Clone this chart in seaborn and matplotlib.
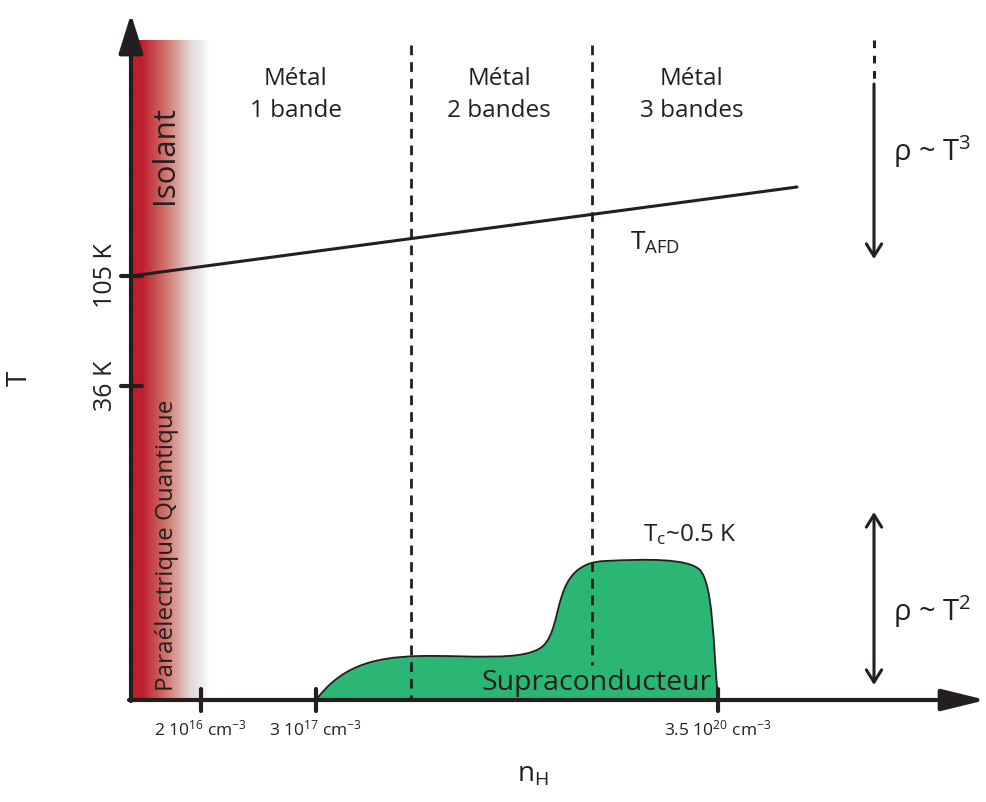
import numpy as np
import matplotlib.pyplot as plt
import seaborn as sns
from matplotlib.path import Path
from matplotlib.patches import PathPatch
from matplotlib.colors import LinearSegmentedColormap

# schematic coordinates: x = position along n_H, y = position down the T axis (0 at top)
region_labels = ["Métal\n1 bande", "Métal\n2 bandes", "Métal\n3 bandes"]
region_x = [296, 499, 692]
boundary_x = [411, 592]
boundary_bottom = [700, 665]

tafd_x = [131, 797]
tafd_y = [276, 187]

T_ticks = [276, 386]
T_labels = ["105 K", "36 K"]

n_ticks = [201, 316, 718]
n_labels = [r"2 $\mathregular{10^{16}}$ cm$\mathregular{^{-3}}$",
            r"3 $\mathregular{10^{17}}$ cm$\mathregular{^{-3}}$",
            r"3.5 $\mathregular{10^{20}}$ cm$\mathregular{^{-3}}$"]

# superconducting dome outline (cubic Bezier control points)
dome_pts = [(316, 700),
            (340, 668), (370, 657), (420, 656),
            (470, 655), (525, 662), (543, 646),
            (565, 625), (550, 563), (605, 561),
            (645, 559), (688, 558), (700, 570),
            (713, 585), (713, 640), (718, 700),
            (316, 700)]

ink = "#231f20"

sns.set_style("white")
plt.rcParams["font.family"] = ["Open Sans", "DejaVu Sans"]

fig = plt.figure(figsize=(9.87, 8.02), dpi=100)
ax = fig.add_axes([0, 0, 1, 1])

# insulating band gradient
cmap = LinearSegmentedColormap.from_list(
    "iso", [(0, "#be1e2d"), (0.14, "#be1e2d"), (0.45, "#d0786f"),
            (0.75, "#e4d6d4"), (0.9, "#eceef0"), (1.0, "#ffffff")])
grad = np.linspace(0, 1, 256).reshape(1, -1)
ax.imshow(grad, cmap=cmap, extent=(131, 210, 700, 40), aspect="auto", zorder=0)

# dome
codes = [Path.MOVETO] + [Path.CURVE4] * 15 + [Path.CLOSEPOLY]
ax.add_patch(PathPatch(Path(dome_pts, codes), facecolor="#2bb673",
                       edgecolor=ink, lw=1.3, zorder=2))

# region boundaries
for bx, bb in zip(boundary_x, boundary_bottom):
    ax.plot([bx, bx], [45, bb], color=ink, lw=2, dashes=(3.5, 2.5), zorder=3)

# T_AFD line
sns.lineplot(x=tafd_x, y=tafd_y, ax=ax, color=ink, lw=2.2, zorder=4)

# axes with arrows
ax.annotate("", xy=(131, 14), xytext=(131, 701), annotation_clip=False,
            arrowprops=dict(arrowstyle="-|>,head_length=0.8,head_width=0.25",
                            mutation_scale=30, lw=3, color=ink, shrinkA=0, shrinkB=0),
            zorder=5)
ax.annotate("", xy=(986, 700), xytext=(129, 700), annotation_clip=False,
            arrowprops=dict(arrowstyle="-|>,head_length=0.9,head_width=0.22",
                            mutation_scale=30, lw=3, color=ink, shrinkA=0, shrinkB=0),
            zorder=5)

# ticks
for ty, tl in zip(T_ticks, T_labels):
    ax.plot([121, 142], [ty, ty], color=ink, lw=3, zorder=5)
    ax.text(106, ty, tl, rotation=90, ha="center", va="center", fontsize=18, color=ink)
for tx, tl in zip(n_ticks, n_labels):
    ax.plot([tx, tx], [689, 711], color=ink, lw=3, zorder=5)
    ax.text(tx, 729, tl, ha="center", va="center", fontsize=12.5, color=ink)

ax.text(20, 378, "T", rotation=90, ha="center", va="center", fontsize=20, color=ink)
ax.text(533, 775, r"$\mathregular{n_H}$", ha="center", va="center", fontsize=20, color=ink)

# labels
for rx, rl in zip(region_x, region_labels):
    ax.text(rx, 95, rl, ha="center", va="center", fontsize=17.5, color=ink, linespacing=1.45)

ax.text(630, 243, r"$\mathregular{T_{AFD}}$", ha="left", va="center", fontsize=19, color=ink)
ax.text(165, 155, "Isolant", rotation=90, ha="center", va="center", fontsize=22.5, color=ink)
ax.text(167, 545, "Paraélectrique Quantique", rotation=90, ha="center", va="center",
        fontsize=17.5, color=ink)
ax.text(597, 683, "Supraconducteur", ha="center", va="center", fontsize=20.5, color=ink, zorder=6)
ax.text(643, 535, r"$\mathregular{T_c}$~0.5 K", ha="left", va="center", fontsize=17.5, color=ink)

# resistivity arrows
ax.plot([874, 874], [40, 80], color=ink, lw=2.2, dashes=(2.5, 2.5))
ax.annotate("", xy=(874, 259), xytext=(874, 84),
            arrowprops=dict(arrowstyle="->,head_length=0.4,head_width=0.25",
                            mutation_scale=22, lw=2.2, color=ink, shrinkA=0, shrinkB=0))
ax.annotate("", xy=(874, 685), xytext=(874, 512),
            arrowprops=dict(arrowstyle="<->,head_length=0.4,head_width=0.25",
                            mutation_scale=22, lw=2.2, color=ink, shrinkA=0, shrinkB=0))
ax.text(893, 152, r"ρ ~ $\mathregular{T^3}$", ha="left", va="center", fontsize=21, color=ink)
ax.text(893, 612, r"ρ ~ $\mathregular{T^2}$", ha="left", va="center", fontsize=21, color=ink)

ax.set_xlim(0, 987)
ax.set_ylim(802, 0)
ax.axis("off")

fig.savefig("out.png", dpi=100)
